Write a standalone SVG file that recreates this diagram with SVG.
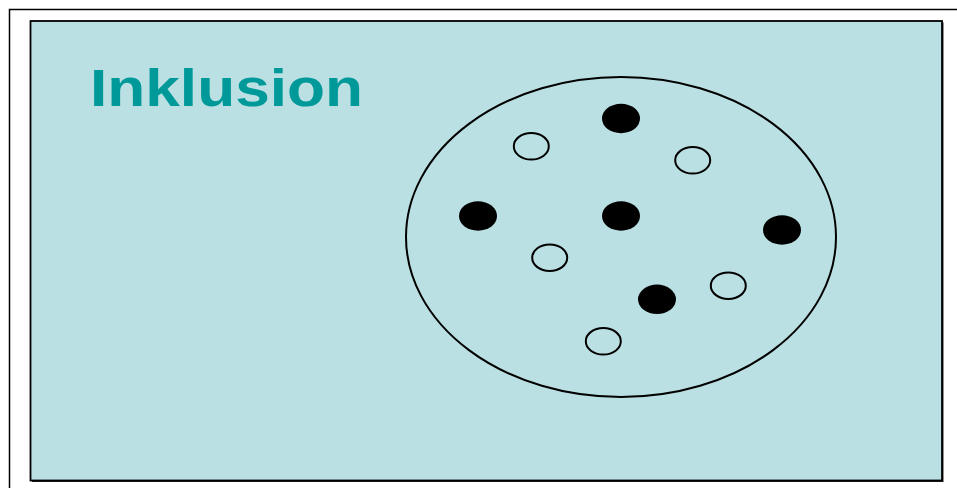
<svg xmlns="http://www.w3.org/2000/svg" width="957" height="488" viewBox="0 0 957 488">
<style>
.frame{fill:none;stroke:#000;stroke-width:1.5}
.panel{fill:#BAE0E3;stroke:#000;stroke-width:1.8}
.set{fill:none;stroke:#000;stroke-width:2}
.full{fill:#000}
.empty{fill:none;stroke:#000;stroke-width:2}
.title{font-family:"Liberation Sans",Arial,sans-serif;font-weight:bold;font-size:51px;fill:#009999}
</style>
<rect width="957" height="488" fill="#fff"/>
<rect class="frame" x="9.5" y="9.5" width="960" height="490"/>
<g id="panel">
<rect x="32" y="22.5" width="911.5" height="459.5" fill="#222"/>
<rect class="panel" x="30.5" y="21" width="911.5" height="459.5"/>
</g>
<g id="title"><text class="title" x="90" y="106" textLength="273" lengthAdjust="spacingAndGlyphs">Inklusion</text></g>
<g id="set"><ellipse class="set" cx="621" cy="237" rx="215" ry="160"/></g>
<g id="members">
<ellipse class="full" cx="621" cy="118.5" rx="19" ry="14.7"/>
<ellipse class="full" cx="478" cy="216" rx="19" ry="14.7"/>
<ellipse class="full" cx="621" cy="216" rx="19" ry="14.7"/>
<ellipse class="full" cx="782" cy="230" rx="19" ry="14.7"/>
<ellipse class="full" cx="657" cy="299.3" rx="19" ry="14.7"/>
<ellipse class="empty" cx="531.3" cy="146.3" rx="17.5" ry="13.3"/>
<ellipse class="empty" cx="692.7" cy="160.3" rx="17.5" ry="13.3"/>
<ellipse class="empty" cx="549.7" cy="257.7" rx="17.5" ry="13.3"/>
<ellipse class="empty" cx="728.3" cy="285.7" rx="17.5" ry="13.3"/>
<ellipse class="empty" cx="603.3" cy="341.3" rx="17.5" ry="13.3"/>
</g>
</svg>
